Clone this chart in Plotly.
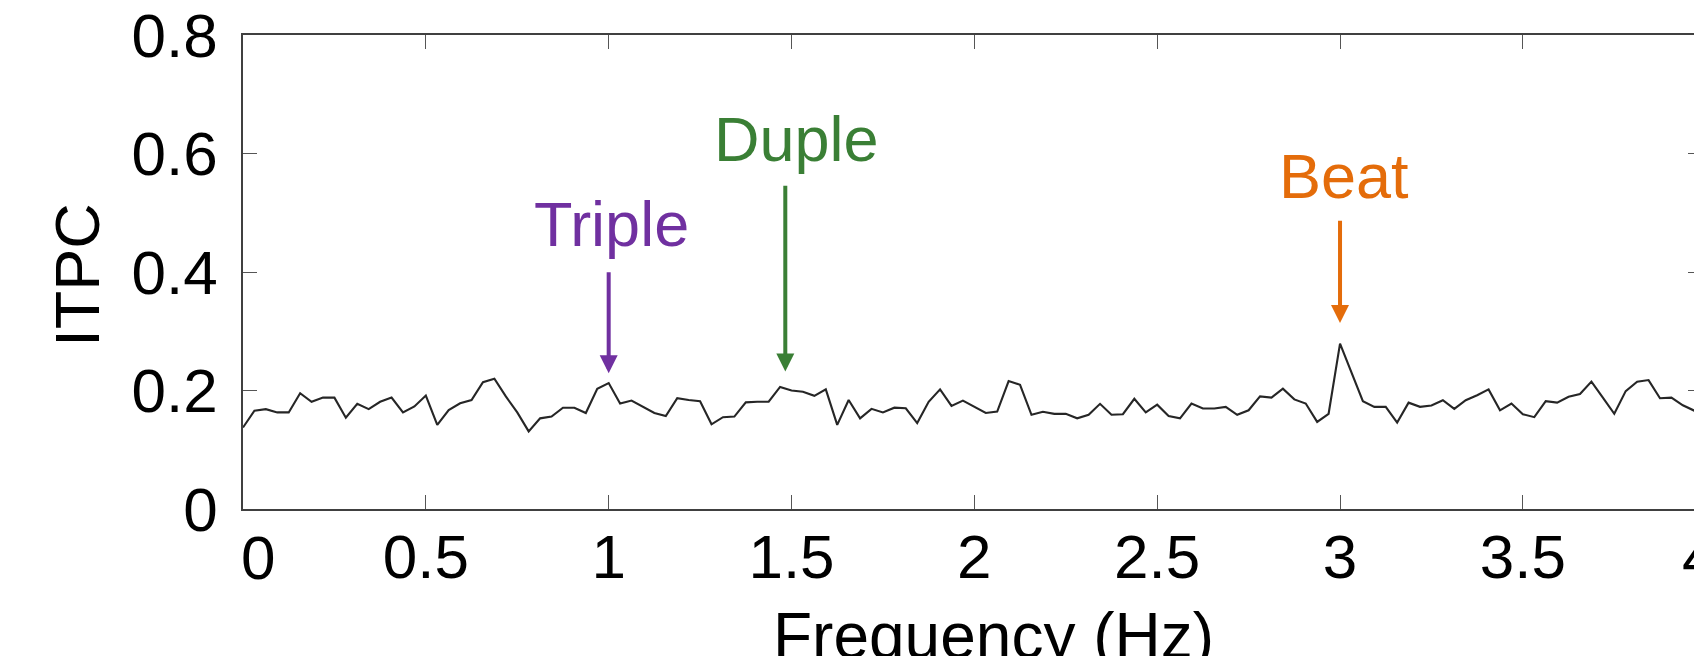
import plotly.graph_objects as go

# ITPC spectrum values, one every 1/32 Hz starting at 0 Hz
itpc = [
    0.1375, 0.166, 0.1685, 0.163, 0.163, 0.1955, 0.181, 0.188, 0.188, 0.154,
    0.1775, 0.1685, 0.181, 0.188, 0.163, 0.173, 0.1915, 0.142, 0.167, 0.1785,
    0.184, 0.214, 0.22, 0.19, 0.163, 0.131, 0.153, 0.156, 0.171, 0.171,
    0.162, 0.203, 0.2125, 0.178, 0.183, 0.172, 0.162, 0.157, 0.187, 0.184,
    0.182, 0.143, 0.155, 0.156, 0.180, 0.181, 0.181, 0.206, 0.200, 0.198,
    0.191, 0.202, 0.142, 0.184, 0.153, 0.169, 0.163, 0.171, 0.170, 0.145,
    0.181, 0.202, 0.174, 0.183, 0.172, 0.162, 0.1645, 0.216, 0.2096, 0.159,
    0.164, 0.1606, 0.1606, 0.153, 0.159, 0.1775, 0.159, 0.160, 0.186, 0.163,
    0.176, 0.157, 0.153, 0.178, 0.1695, 0.1695, 0.1724, 0.159, 0.1666, 0.190,
    0.188, 0.203, 0.185, 0.178, 0.147, 0.1607, 0.279, 0.229, 0.182, 0.1724,
    0.1724, 0.146, 0.1795, 0.1724, 0.1748, 0.1836, 0.169, 0.1836, 0.192, 0.2018,
    0.1666, 0.178, 0.160, 0.155, 0.182, 0.1795, 0.1894, 0.194, 0.215, 0.188,
    0.1607, 0.199, 0.2147, 0.2176, 0.187, 0.188, 0.175, 0.166, 0.160,
]
freq_step = 1 / 32
freqs = [i * freq_step for i in range(len(itpc))]

x_tickvals = [0, 0.5, 1, 1.5, 2, 2.5, 3, 3.5]
x_ticktext = ["", "0.5", "1", "1.5", "2", "2.5", "3", "3.5"]
y_tickvals = [0, 0.2, 0.4, 0.6, 0.8]
y_ticktext = ["0", "0.2", "0.4", "0.6", "0.8"]

# peak labels: name, colour, frequency (arrow), arrow tip, arrow tail, label x, label y
peak_names = ["Triple", "Duple", "Beat"]
peak_colors = ["#7030A0", "#3A7F35", "#E46C0A"]
peak_freqs = [1.0, 1.483, 3.0]
arrow_tips = [0.229, 0.232, 0.314]
arrow_tails = [0.402, 0.548, 0.489]
label_x = [1.008, 1.513, 3.011]
label_y = [0.481, 0.625, 0.562]

FONT = "Arial, Liberation Sans, sans-serif"
AXIS_COLOR = "#404040"

fig = go.Figure()
fig.add_trace(go.Scatter(
    x=freqs, y=itpc, mode="lines",
    line=dict(color="#262626", width=2.1),
    showlegend=False, hoverinfo="skip",
))
fig.add_trace(go.Scatter(x=[], y=[], yaxis="y2", showlegend=False))

annotations = []
for name, col, f, tip, tail, lx, ly in zip(peak_names, peak_colors, peak_freqs,
                                          arrow_tips, arrow_tails, label_x, label_y):
    annotations.append(dict(
        x=f, y=tip, xref="x", yref="y", ax=f, ay=tail, axref="x", ayref="y",
        text="", showarrow=True, arrowhead=2, arrowsize=0.9, arrowwidth=4,
        arrowcolor=col, standoff=0,
    ))
    annotations.append(dict(
        x=lx, y=ly, xref="x", yref="y", text=name, showarrow=False,
        font=dict(family=FONT, size=63, color=col),
        xanchor="center", yanchor="middle",
    ))

# axis titles and the edge tick labels ("0" sits a little right, "4" is clipped)
annotations.append(dict(
    x=0.5175, y=-0.267, xref="paper", yref="paper", text="Frequency (Hz)",
    showarrow=False, font=dict(family=FONT, size=64, color="black"),
    xanchor="center", yanchor="middle",
))
annotations.append(dict(
    x=-0.1146, y=0.4937, xref="paper", yref="paper", text="ITPC", textangle=-90,
    showarrow=False, font=dict(family=FONT, size=63, color="black"),
    xanchor="center", yanchor="middle",
))
annotations.append(dict(
    x=0.0101, y=-0.1023, xref="paper", yref="paper", text="0",
    showarrow=False, font=dict(family=FONT, size=62, color="black"),
    xanchor="center", yanchor="middle",
))
annotations.append(dict(
    x=1.0034, y=-0.1023, xref="paper", yref="paper", text="4",
    showarrow=False, font=dict(family=FONT, size=62, color="black"),
    xanchor="center", yanchor="middle",
))

fig.update_layout(
    template="none",
    width=1694, height=656,
    margin=dict(l=243, r=0, t=35, b=147, pad=0, autoexpand=False),
    paper_bgcolor="white", plot_bgcolor="white",
    showlegend=False,
    xaxis=dict(
        range=[0, 3.968], tickvals=x_tickvals, ticktext=x_ticktext,
        ticks="inside", ticklen=14, tickwidth=1.2, tickcolor="#555",
        showline=True, linecolor=AXIS_COLOR, linewidth=1.6, mirror="ticks",
        showgrid=False, zeroline=False, automargin=False,
        tickfont=dict(family=FONT, size=62, color="black"),
        ticklabelstandoff=-7,
    ),
    yaxis=dict(
        range=[0, 0.8], tickvals=y_tickvals, ticktext=y_ticktext,
        ticks="inside", ticklen=14, tickwidth=1.2, tickcolor="#555",
        showline=True, linecolor=AXIS_COLOR, linewidth=1.6, mirror=False,
        showgrid=False, zeroline=False, automargin=False,
        tickfont=dict(family=FONT, size=62, color="black"),
        ticklabelstandoff=11,
    ),
    yaxis2=dict(
        range=[0, 0.8], tickvals=y_tickvals, overlaying="y", side="right",
        ticks="inside", ticklen=6, tickwidth=1.2, tickcolor="#555",
        showticklabels=False, showline=False, showgrid=False, zeroline=False,
        automargin=False,
    ),
    annotations=annotations,
)

fig.write_html("out.html", config=dict(displayModeBar=False))
